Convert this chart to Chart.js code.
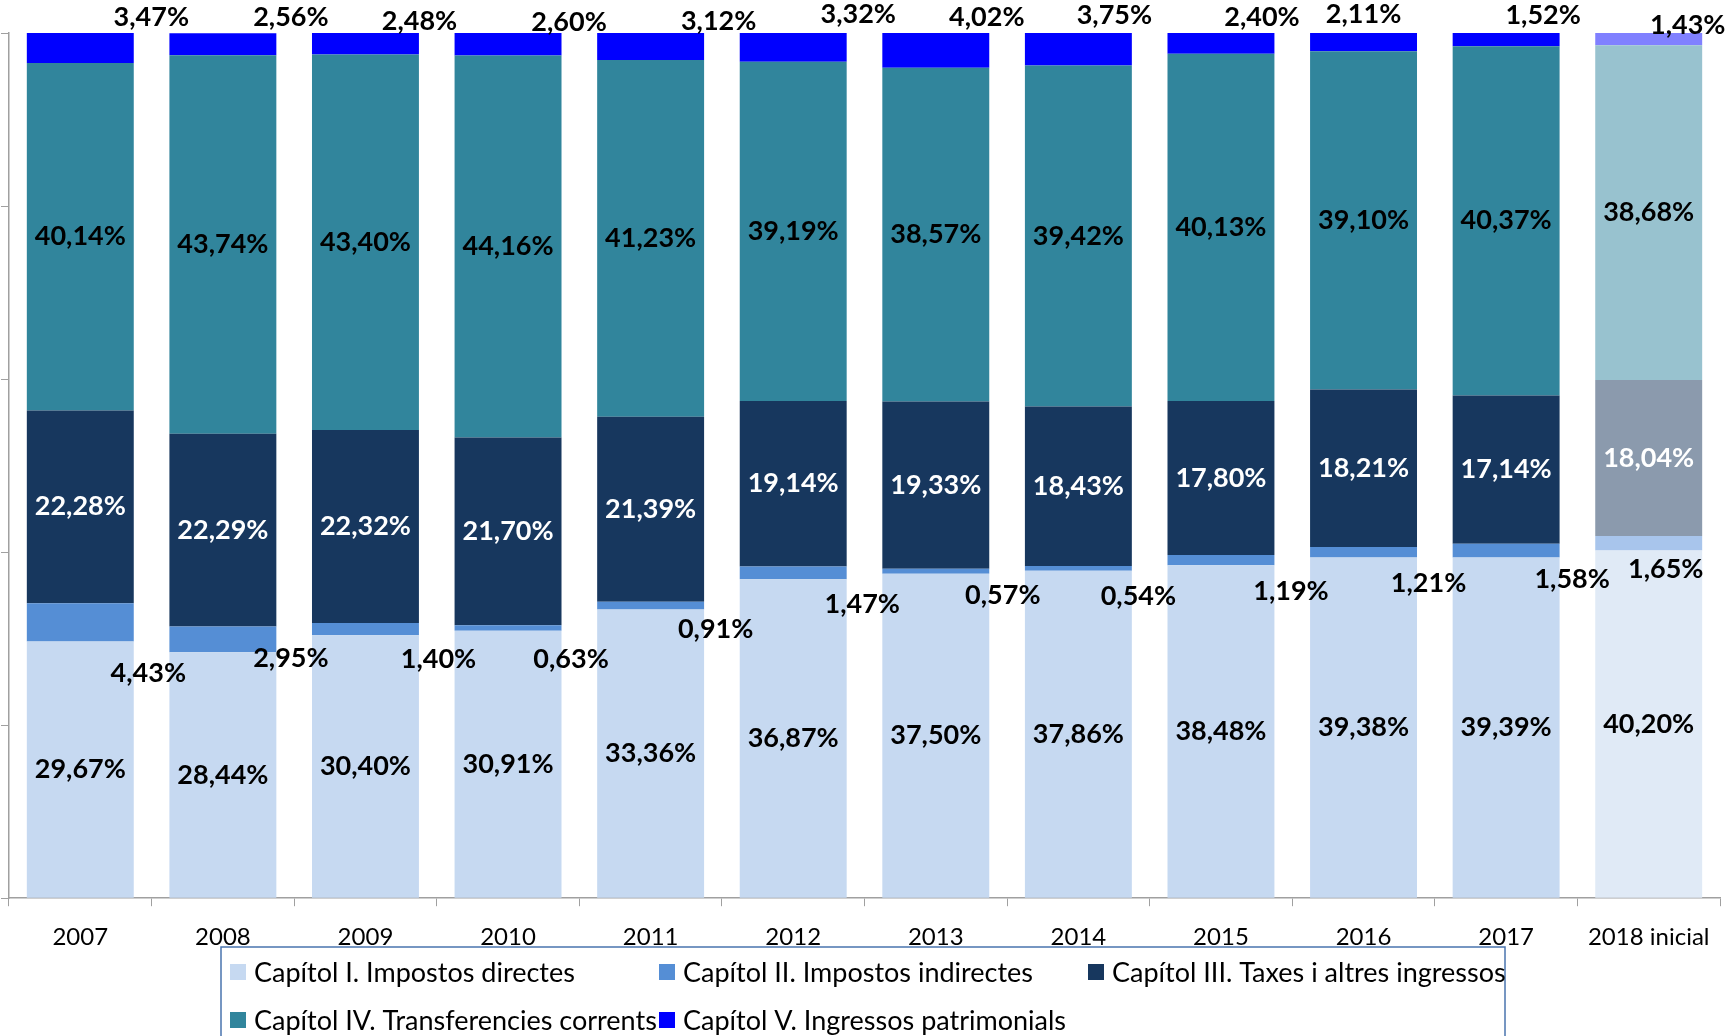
<!DOCTYPE html>
<html>
<head>
<meta charset="utf-8">
<script src="https://cdn.jsdelivr.net/npm/chart.js@4.4.0/dist/chart.umd.min.js"></script>
<style>
	html, body { margin:0; padding:0; background:#fff; }
	canvas { display:block; }
</style>
</head>
<body>
<canvas id="ingressos_chart" width="1733" height="1036"></canvas>
<script>
// categories (x axis)
const years = ['2007', '2008', '2009', '2010', '2011', '2012', '2013', '2014', '2015', '2016', '2017', '2018 inicial'];

// series (% of total income)
const cap1 = [29.67, 28.44, 30.40, 30.91, 33.36, 36.87, 37.50, 37.86, 38.48, 39.38, 39.39, 40.20];
const cap2 = [4.43, 2.95, 1.40, 0.63, 0.91, 1.47, 0.57, 0.54, 1.19, 1.21, 1.58, 1.65];
const cap3 = [22.28, 22.29, 22.32, 21.70, 21.39, 19.14, 19.33, 18.43, 17.80, 18.21, 17.14, 18.04];
const cap4 = [40.14, 43.74, 43.40, 44.16, 41.23, 39.19, 38.57, 39.42, 40.13, 39.10, 40.37, 38.68];
const cap5 = [3.47, 2.56, 2.48, 2.60, 3.12, 3.32, 4.02, 3.75, 2.40, 2.11, 1.52, 1.43];

const seriesNames = [
	'Capítol I. Impostos directes',
	'Capítol II. Impostos indirectes',
	'Capítol III. Taxes i altres ingressos',
	'Capítol IV. Transferencies corrents',
	'Capítol V. Ingressos patrimonials'
];

// y axis ticks (no labels shown, only tick marks)
const yTicks = [0, 20, 40, 60, 80, 100];

// colours: normal years / last year (lighter)
const colors = ['#C6D9F1', '#558ED5', '#17375E', '#31859C', '#0000FF'];
const colorsLast = ['#E0EAF6', '#A8C5EC', '#8B9AAD', '#98C2CF', '#8080FF'];

// hand-placed label nudges (px) for the small series, like in the original sheet
const cap2Nudge = [[68,32],[68,6],[73,24],[63,29],[65,20],[69,25],[67,22],[60,26],[70,26],[65,26],[66,22],[17,19]];
const cap5Nudge = [[71,16],[68,16],[54,12],[61,11],[68,12],[65,19],[51,16],[36,18],[41,16],[0,19],[37,18],[39,8]];

const fontFam = 'Lato, "Open Sans", sans-serif';

function fmt(v) {
	return v.toFixed(2).replace('.', ',') + '%';
}

const allSeries = [cap1, cap2, cap3, cap4, cap5];
const datasets = allSeries.map(function (vals, s) {
	return {
		label: seriesNames[s],
		data: vals,
		backgroundColor: years.map(function (y, i) { return i === years.length - 1 ? colorsLast[s] : colors[s]; }),
		borderWidth: 0,
		barPercentage: 0.75,
		categoryPercentage: 1.0
	};
});

// labels on the segments
const segmentLabels = {
	id: 'segmentLabels',
	afterDatasetsDraw(chart) {
		const ctx = chart.ctx;
		ctx.save();
		ctx.font = 'bold 27px ' + fontFam;
		ctx.textAlign = 'center';
		ctx.textBaseline = 'middle';
		chart.data.datasets.forEach(function (ds, di) {
			const meta = chart.getDatasetMeta(di);
			meta.data.forEach(function (bar, i) {
				let x = bar.x, y;
				if (di === 1) {
					x += cap2Nudge[i][0];
					y = bar.base + cap2Nudge[i][1];
				} else if (di === 4) {
					x += cap5Nudge[i][0];
					y = bar.y - cap5Nudge[i][1];
				} else {
					y = (bar.y + bar.base) / 2;
				}
				ctx.fillStyle = di === 2 ? '#fff' : '#000';
				ctx.fillText(fmt(ds.data[i]), x, y);
			});
		});
		ctx.restore();
	}
};

// boxed legend at the bottom, 3 columns
const boxLegend = {
	id: 'boxLegend',
	afterDraw(chart) {
		const ctx = chart.ctx;
		const left = 230, colW = 429, rowY = [972, 1020], sw = 16;
		ctx.save();
		ctx.strokeStyle = '#4A74AE';
		ctx.lineWidth = 1.5;
		ctx.strokeRect(221, 947, 1284, 120);
		ctx.font = '27px ' + fontFam;
		ctx.textBaseline = 'middle';
		ctx.textAlign = 'left';
		chart.data.datasets.forEach(function (ds, i) {
			const col = i % 3, row = Math.floor(i / 3);
			const x = left + col * colW, y = rowY[row];
			ctx.fillStyle = colors[i];
			ctx.fillRect(x, y - sw / 2, sw, sw);
			ctx.fillStyle = '#000';
			ctx.fillText(ds.label, x + sw + 8, y + 1);
		});
		ctx.restore();
	}
};

const ctxMain = document.getElementById('ingressos_chart').getContext('2d');
const ingressos_chart = new Chart(ctxMain, {
	type: 'bar',
	plugins: [segmentLabels, boxLegend],
	data: {
		labels: years,
		datasets: datasets
	},
	options: {
		responsive: false,
		animation: false,
		layout: {
			padding: { top: 33, left: 1, right: 13, bottom: 67 }
		},
		scales: {
			x: {
				stacked: true,
				grid: { offset: true, drawOnChartArea: false, tickLength: 8, color: '#A0A0A0' },
				border: { color: '#A0A0A0', width: 1.5 },
				ticks: {
					color: '#000',
					padding: 17,
					maxRotation: 0,
					font: { size: 24, family: fontFam }
				}
			},
			y: {
				stacked: true,
				min: 0,
				max: 100,
				afterBuildTicks: function (axis) {
					axis.ticks = yTicks.map(function (v) { return { value: v }; });
				},
				grid: { drawOnChartArea: false, tickLength: 8, color: '#A0A0A0' },
				border: { color: '#A0A0A0', width: 1.5 },
				ticks: { display: false }
			}
		},
		plugins: {
			legend: { display: false },
			tooltip: { enabled: false },
			title: { display: false }
		}
	}
});
</script>
</body>
</html>
